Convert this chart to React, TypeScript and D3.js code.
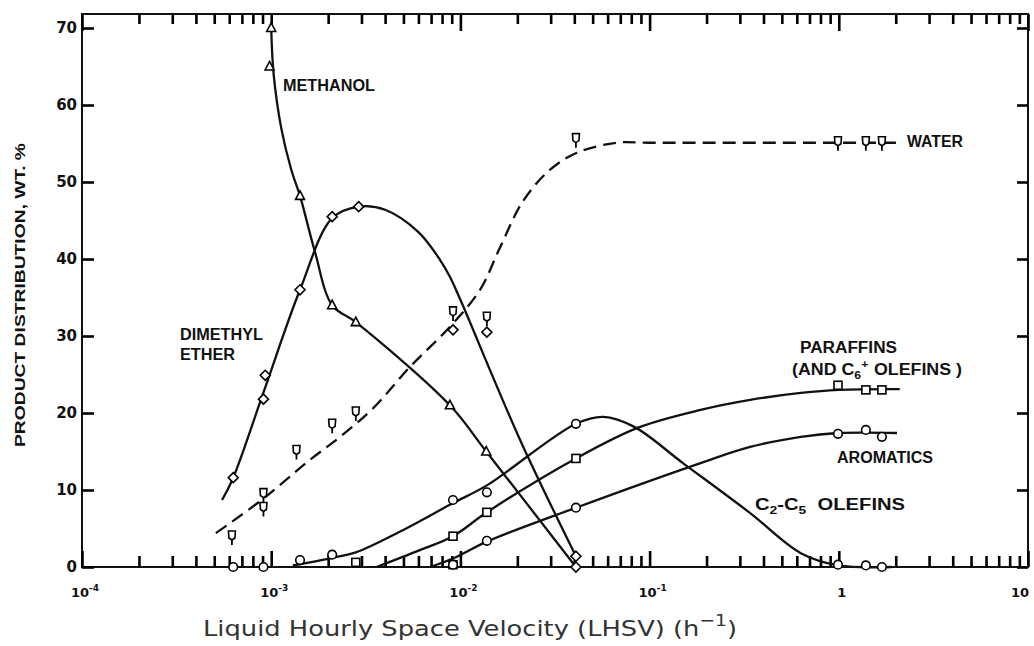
import React, { useEffect, useRef } from 'react';
import * as d3 from 'd3';

type Pt = [number, number];

// fitted curves (as drawn) and measured points, x = LHSV (h^-1), y = wt %
const methanolCurve: Pt[] = [[0.001, 70], [0.00103, 64], [0.00113, 57], [0.00128, 51.5], [0.00142, 48.2], [0.0017, 41], [0.0021, 34], [0.0028, 31.8], [0.0088, 21], [0.0137, 15], [0.0408, 0]];
const methanolPts: Pt[] = [[0.001, 70], [0.00098, 65], [0.00142, 48.2], [0.0021, 34], [0.0028, 31.8], [0.0088, 21], [0.0137, 15]];

const dmeCurve: Pt[] = [[0.00055, 8.7], [0.00063, 11.6], [0.00092, 23], [0.00142, 36], [0.0021, 45.3], [0.0029, 46.8], [0.004, 46.4], [0.006, 43.5], [0.0078, 39.9], [0.0088, 37.7], [0.01, 34.7], [0.0206, 16.6], [0.0408, 1.4]];
const dmePts: Pt[] = [[0.00063, 11.6], [0.00091, 21.8], [0.00093, 24.9], [0.00142, 36], [0.0021, 45.5], [0.0029, 46.8], [0.00914, 30.8], [0.0138, 30.5], [0.0408, 1.4], [0.0408, 0]];

const waterCurve: Pt[] = [[0.00051, 4.4], [0.00089, 8.7], [0.0016, 13.9], [0.00231, 16.9], [0.00345, 20.6], [0.00542, 26], [0.00881, 31.2], [0.0127, 36], [0.0162, 41.5], [0.0214, 47.5], [0.0298, 51.6], [0.0413, 53.8], [0.0672, 55.1], [0.1, 55.1], [2.03, 55.1]];
const waterPts: Pt[] = [[0.00062, 3.9], [0.00091, 9.4], [0.00091, 7.6], [0.00136, 15], [0.0021, 18.4], [0.0028, 20], [0.00914, 33], [0.0138, 32.3], [0.0408, 55.5], [0.99, 55.1], [1.39, 55.1], [1.69, 55.1]];

const olefinCurve: Pt[] = [[0.0013, 0.2], [0.0021, 1.2], [0.0028, 1.9], [0.0048, 4.6], [0.00914, 8.3], [0.0138, 10.6], [0.0408, 18.6], [0.057, 19.5], [0.083, 18.2], [0.15, 13.5], [0.34, 7], [0.63, 1.8], [1.0, 0.2], [1.9, 0]];
const olefinPts: Pt[] = [[0.00063, 0], [0.00091, 0], [0.00142, 0.9], [0.0021, 1.6], [0.00914, 8.7], [0.0138, 9.7], [0.0408, 18.6], [0.99, 0.3], [1.39, 0.2], [1.69, 0]];

const paraffinCurve: Pt[] = [[0.0036, 0], [0.0061, 2.2], [0.00914, 4], [0.0138, 7.1], [0.0408, 14.1], [0.087, 18.1], [0.186, 20.4], [0.34, 21.7], [0.63, 22.6], [1.0, 23], [2.1, 23.1]];
const paraffinPts: Pt[] = [[0.0028, 0.6], [0.00914, 0.3], [0.00914, 4], [0.0138, 7.1], [0.0408, 14.1], [0.99, 23.6], [1.39, 23], [1.69, 23]];

const aromaticCurve: Pt[] = [[0.0069, 0], [0.00914, 1.1], [0.0138, 3.3], [0.0408, 7.7], [0.186, 13.5], [0.34, 15.6], [0.63, 16.9], [0.99, 17.4], [2.03, 17.4]];
const aromaticPts: Pt[] = [[0.00914, 0.3], [0.0138, 3.4], [0.0408, 7.7], [0.99, 17.3], [1.39, 17.8], [1.69, 16.9]];

const yTicks = [0, 10, 20, 30, 40, 50, 60, 70];
const xDecades = [1e-4, 1e-3, 1e-2, 1e-1, 1, 10];
const xMultiples = [2, 3, 4, 5, 6, 7, 8, 9];
const xTickLabels: [string, string][] = [['10', '-4'], ['10', '-3'], ['10', '-2'], ['10', '-1'], ['1', ''], ['10', '']];

const W = 1034;
const H = 646;
const PL = 82, PR = 1028, PT = 14, PB = 567;

const x = d3.scaleLog().domain([1e-4, 10]).range([PL, PR]);
const y = d3.scaleLinear().domain([0, 70]).range([PB, 28]);

const line = d3.line<Pt>()
  .x(d => x(d[0]))
  .y(d => y(d[1]))
  .curve(d3.curveCatmullRom.alpha(0.5));

const lab = "'Liberation Sans', 'DejaVu Sans', Arial, sans-serif";
const num = "'DejaVu Sans', 'Liberation Sans', Arial, sans-serif";

function Marker({ kind, p }: { kind: string; p: Pt }) {
  const cx = x(p[0]);
  const cy = y(p[1]);
  const st = { fill: '#fff', stroke: '#000', strokeWidth: 1.6 };
  if (kind === 'tri') {
    return <path d={`M${cx},${cy - 5} L${cx + 4.5},${cy + 3.5} L${cx - 4.5},${cy + 3.5} Z`} {...st} />;
  }
  if (kind === 'dia') {
    return <path d={`M${cx},${cy - 5} L${cx + 5},${cy} L${cx},${cy + 5} L${cx - 5},${cy} Z`} {...st} />;
  }
  if (kind === 'sq') {
    return <rect x={cx - 4} y={cy - 4} width={8} height={8} {...st} />;
  }
  if (kind === 'nabla') {
    return (
      <g>
        <line x1={cx} y1={cy} x2={cx} y2={cy + 8} stroke="#000" strokeWidth={1.8} />
        <path d={`M${cx - 3.5},${cy - 6} L${cx + 3.5},${cy - 6} L${cx + 3},${cy + 1} L${cx},${cy + 3} L${cx - 3},${cy + 1} Z`} {...st} />
      </g>
    );
  }
  return <circle cx={cx} cy={cy} r={4.3} {...st} />;
}

export default function App() {
  const axesRef = useRef<SVGGElement>(null);

  useEffect(() => {
    if (!axesRef.current) return;
    const g = d3.select(axesRef.current);
    g.selectAll('*').remove();
    const minorVals: number[] = [];
    xDecades.slice(0, -1).forEach(d => xMultiples.forEach(k => minorVals.push(d * k)));

    const styleAxis = (sel: d3.Selection<SVGGElement, unknown, null, undefined>) => {
      sel.select('.domain').remove();
      sel.selectAll('line').attr('stroke', '#000').attr('stroke-width', 2.6);
    };
    // bottom and top ticks point into the plot
    g.append('g').attr('transform', `translate(0,${PB})`)
      .call(d3.axisBottom(x).tickValues(xDecades).tickSize(-16).tickFormat(() => ''))
      .call(styleAxis);
    g.append('g').attr('transform', `translate(0,${PB})`)
      .call(d3.axisBottom(x).tickValues(minorVals).tickSize(-11).tickFormat(() => ''))
      .call(styleAxis);
    g.append('g').attr('transform', `translate(0,${PT})`)
      .call(d3.axisTop(x).tickValues(xDecades).tickSize(-17).tickFormat(() => ''))
      .call(styleAxis);
    g.append('g').attr('transform', `translate(0,${PT})`)
      .call(d3.axisTop(x).tickValues(minorVals).tickSize(-10).tickFormat(() => ''))
      .call(styleAxis);
    g.append('g').attr('transform', `translate(${PL},0)`)
      .call(d3.axisLeft(y).tickValues(yTicks).tickSize(-12).tickFormat(() => ''))
      .call(styleAxis);
    g.append('g').attr('transform', `translate(${PR},0)`)
      .call(d3.axisRight(y).tickValues(yTicks).tickSize(-11).tickFormat(() => ''))
      .call(styleAxis);
    g.selectAll('text').remove();
  }, []);

  const ink = '#111';
  const series: { curve: Pt[]; pts: Pt[]; kind: string; dash?: string }[] = [
    { curve: methanolCurve, pts: methanolPts, kind: 'tri' },
    { curve: dmeCurve, pts: dmePts, kind: 'dia' },
    { curve: waterCurve, pts: waterPts, kind: 'nabla', dash: '13 7' },
    { curve: olefinCurve, pts: olefinPts, kind: 'circ' },
    { curve: paraffinCurve, pts: paraffinPts, kind: 'sq' },
    { curve: aromaticCurve, pts: aromaticPts, kind: 'circ' },
  ];
  const annot = { fontFamily: lab, fontWeight: 700, fontSize: 16, fill: ink, lengthAdjust: 'spacingAndGlyphs' } as const;

  return (
    <svg width={W} height={H} style={{ position: 'absolute', left: 0, top: 0, background: '#fff' }}>
      <rect x={PL} y={PT} width={PR - PL} height={PB - PT} fill="none" stroke={ink} strokeWidth={2} />
      <g ref={axesRef} />

      {yTicks.map(t => (
        <text key={'y' + t} x={77} y={y(t) + 5} textAnchor="end" fontFamily={num} fontWeight={700} fontSize={15} fill={ink}>{t}</text>
      ))}

      {xDecades.map((t, i) => (
        <text key={'xl' + t} x={i === xDecades.length - 1 ? x(t) - 8 : x(t) + 3} y={597} textAnchor="middle" fontFamily={num} fontWeight={700} fontSize={13} fill={ink}>
          {xTickLabels[i][0]}
          {xTickLabels[i][1] && <tspan dy={-6} fontSize={9}>{xTickLabels[i][1]}</tspan>}
        </text>
      ))}

      {/* curves */}
      {series.map((s, i) => (
        <path key={'c' + i} d={line(s.curve) || ''} fill="none" stroke={ink} strokeWidth={2.3} strokeDasharray={s.dash} />
      ))}
      {series.map((s, i) => s.pts.map((p, j) => <Marker key={`p${i}-${j}`} kind={s.kind} p={p} />))}

      {/* annotations */}
      <text x={283} y={91} {...annot} textLength={92}>METHANOL</text>
      <text x={180} y={340} {...annot} textLength={83}>DIMETHYL</text>
      <text x={180} y={360} {...annot} textLength={55}>ETHER</text>
      <text x={907} y={147} {...annot} textLength={56}>WATER</text>
      <text x={800} y={353} {...annot} textLength={97}>PARAFFINS</text>
      <text x={792} y={375} {...annot} textLength={170}>
        (AND C<tspan dy={4} fontSize={11}>6</tspan><tspan dy={-11} fontSize={11}>+</tspan><tspan dy={7} dx={5}>OLEFINS )</tspan>
      </text>
      <text x={837} y={463} {...annot} textLength={96}>AROMATICS</text>
      <text x={755} y={510} {...annot} textLength={150}>
        C<tspan dy={4} fontSize={11}>2</tspan><tspan dy={-4}>-C</tspan><tspan dy={4} fontSize={11}>5</tspan><tspan dy={-4} dx={9}>OLEFINS</tspan>
      </text>

      {/* axis titles */}
      <text transform={`translate(25,295) rotate(-90)`} textAnchor="middle" fontFamily={lab} fontWeight={700} fontSize={14} fill={ink} textLength={304} lengthAdjust="spacingAndGlyphs">
        PRODUCT DISTRIBUTION, WT. %
      </text>
      <text x={203} y={636} fontFamily={num} fontSize={22} fill="#333" textLength={534} lengthAdjust="spacingAndGlyphs">
        Liquid Hourly Space Velocity (LHSV) (h<tspan dy={-10} fontSize={16}>−1</tspan><tspan dy={10}>)</tspan>
      </text>
    </svg>
  );
}
